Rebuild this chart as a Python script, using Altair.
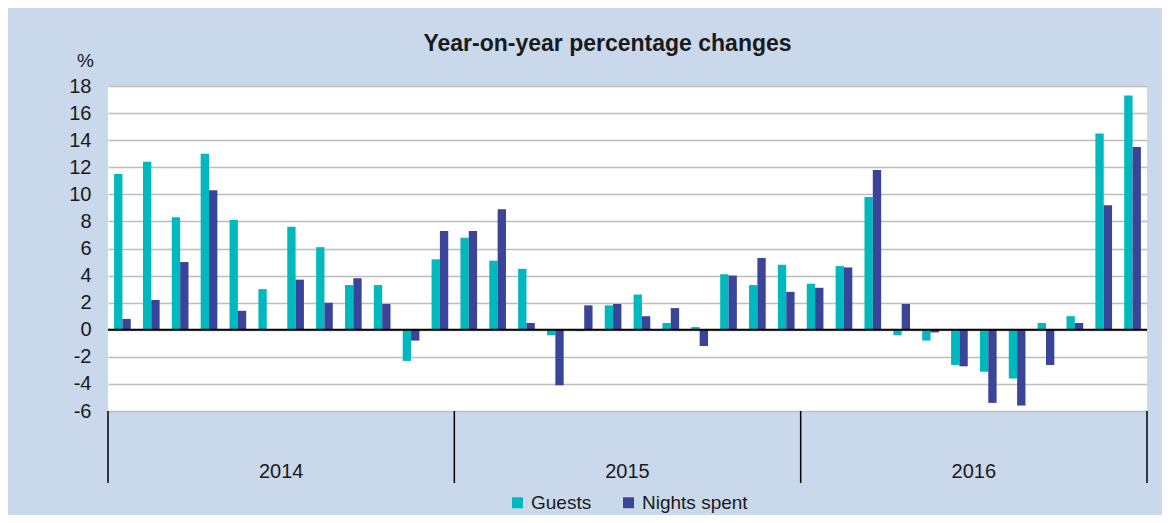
import altair as alt
import pandas as pd

years = ["2014", "2015", "2016"]
months = [f"{y}-{m:02d}" for y in years for m in range(1, 13)]
series = ["Guests", "Nights spent"]
colors = ["#00B9BE", "#3A4599"]

guests = [11.5, 12.4, 8.3, 13.0, 8.1, 3.0, 7.6, 6.1, 3.3, 3.3, -2.3, 5.2,
          6.8, 5.1, 4.5, -0.4, -0.1, 1.8, 2.6, 0.5, 0.2, 4.1, 3.3, 4.8,
          3.4, 4.7, 9.8, -0.4, -0.8, -2.6, -3.1, -3.6, 0.5, 1.0, 14.5, 17.3]
nights = [0.8, 2.2, 5.0, 10.3, 1.4, 0.0, 3.7, 2.0, 3.8, 1.9, -0.8, 7.3,
          7.3, 8.9, 0.5, -4.1, 1.8, 1.9, 1.0, 1.6, -1.2, 4.0, 5.3, 2.8,
          3.1, 4.6, 11.8, 1.9, -0.2, -2.7, -5.4, -5.6, -2.6, 0.5, 9.2, 13.5]
y_ticks = list(range(-6, 19, 2))

FONT = "Liberation Sans"

rows = []
for i, m in enumerate(months):
    rows.append({"month": m, "series": series[0], "value": guests[i]})
    rows.append({"month": m, "series": series[1], "value": nights[i]})
df = pd.DataFrame(rows)

xscale = alt.Scale(domain=months, paddingInner=0, paddingOuter=0)
yscale = alt.Scale(domain=[-6, 18], nice=False, zero=False)
yaxis = alt.Axis(values=y_ticks, tickCount=13, grid=True, gridColor="#BDBDBD",
                 gridWidth=1.5, ticks=False, domain=False, labelOverlap=False,
                 labelExpr="'' + datum.value",
                 labelFontSize=20, labelFont=FONT,
                 labelColor="#1a1a1a", labelPadding=17,
                 title="%", titleAngle=0, titleX=-23, titleY=-20,
                 titleAlign="center", titleBaseline="alphabetic",
                 titleFontSize=19, titleFont=FONT, titleFontWeight="normal",
                 titleColor="#1a1a1a")

bars = alt.Chart(df).mark_bar().encode(
    x=alt.X("month:N", scale=xscale, axis=None),
    xOffset=alt.XOffset("series:N", sort=series,
                        scale=alt.Scale(domain=series, paddingInner=0, paddingOuter=0.73)),
    y=alt.Y("value:Q", scale=yscale, axis=yaxis, title="%"),
    color=alt.Color("series:N", sort=series,
                    scale=alt.Scale(domain=series, range=colors),
                    legend=alt.Legend(title=None, orient="none", direction="horizontal",
                                      legendX=400, legendY=407,
                                      symbolType="square", symbolSize=120,
                                      labelFontSize=19, labelFont=FONT,
                                      labelColor="#1a1a1a", labelOffset=4,
                                      columnPadding=27, symbolStrokeWidth=0)),
)

zero = alt.Chart(pd.DataFrame({"value": [0]})).mark_rule(color="black", strokeWidth=2).encode(
    y=alt.Y("value:Q", scale=yscale, axis=yaxis, title="%")
)

sep_df = pd.DataFrame({"month": [months[0], months[12], months[24]]})
seps = alt.Chart(sep_df).mark_rule(color="black", strokeWidth=1.5).encode(
    x=alt.X("month:N", scale=xscale, bandPosition=0),
    y=alt.value(325), y2=alt.value(397),
)
sep_end = alt.Chart(pd.DataFrame({"month": [months[35]]})).mark_rule(
    color="black", strokeWidth=1.5).encode(
    x=alt.X("month:N", scale=xscale, bandPosition=1),
    y=alt.value(325), y2=alt.value(397),
)

lab_df = pd.DataFrame({"month": [months[5], months[17], months[29]], "year": years})
labels = alt.Chart(lab_df).mark_text(fontSize=20, font=FONT, color="#1a1a1a",
                                     baseline="middle").encode(
    x=alt.X("month:N", scale=xscale, bandPosition=1),
    y=alt.value(386),
    text="year:N",
)

chart = alt.layer(bars, zero, seps, sep_end, labels).properties(
    width=1039, height=325,
    autosize=alt.AutoSizeParams(type="none"),
    padding={"left": 100, "top": 78, "right": 15, "bottom": 104},
    background="#C9D8EB",
    title=alt.TitleParams("Year-on-year percentage changes", fontSize=23,
                          fontWeight="bold", font=FONT, color="#1a1a1a",
                          anchor="middle", frame="group", dx=-20, offset=-5),
).configure_view(fill="white", strokeWidth=0)

chart.save("out.html", embed_options={"renderer": "svg", "actions": False})
